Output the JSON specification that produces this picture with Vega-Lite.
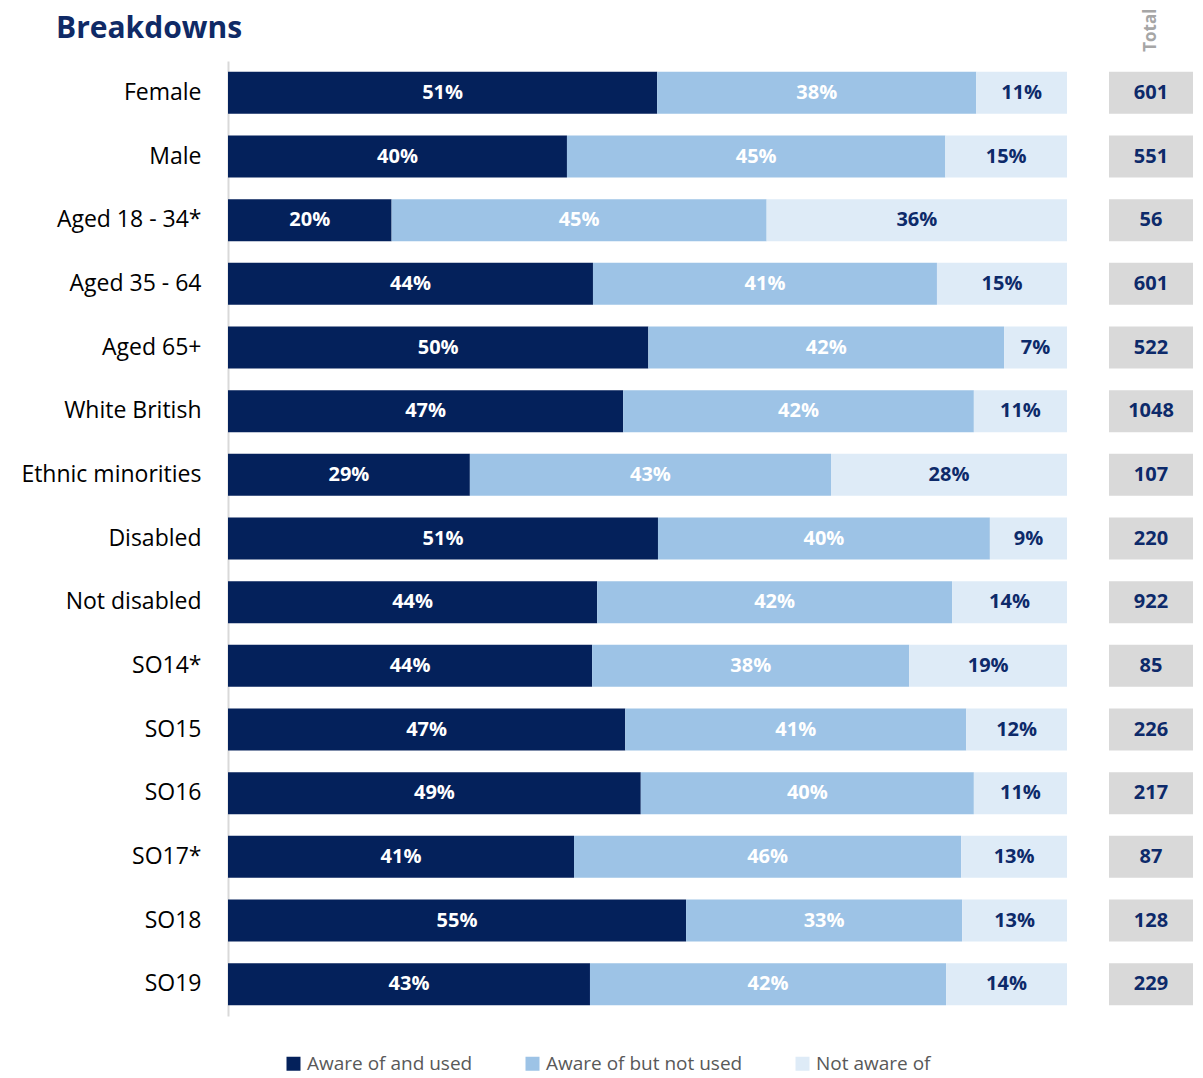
{
  "$schema": "https://vega.github.io/schema/vega-lite/v6.json",
  "padding": {"left": 5, "top": 8, "right": 5, "bottom": 0},
  "autosize": {"type": "pad"},
  "bounds": "flush",
  "spacing": 42,
  "config": {"font": "Open Sans", "view": {"stroke": null}},
  "datasets": {
    "bars": [
      {"group": "Female", "category": "Aware of and used", "value": 51.1, "label": "51%"},
      {"group": "Female", "category": "Aware of but not used", "value": 38.0, "label": "38%"},
      {"group": "Female", "category": "Not aware of", "value": 10.8, "label": "11%"},
      {"group": "Male", "category": "Aware of and used", "value": 40.4, "label": "40%"},
      {"group": "Male", "category": "Aware of but not used", "value": 45.1, "label": "45%"},
      {"group": "Male", "category": "Not aware of", "value": 14.5, "label": "15%"},
      {"group": "Aged 18 - 34*", "category": "Aware of and used", "value": 19.5, "label": "20%"},
      {"group": "Aged 18 - 34*", "category": "Aware of but not used", "value": 44.7, "label": "45%"},
      {"group": "Aged 18 - 34*", "category": "Not aware of", "value": 35.8, "label": "36%"},
      {"group": "Aged 35 - 64", "category": "Aware of and used", "value": 43.5, "label": "44%"},
      {"group": "Aged 35 - 64", "category": "Aware of but not used", "value": 41.0, "label": "41%"},
      {"group": "Aged 35 - 64", "category": "Not aware of", "value": 15.5, "label": "15%"},
      {"group": "Aged 65+", "category": "Aware of and used", "value": 50.1, "label": "50%"},
      {"group": "Aged 65+", "category": "Aware of but not used", "value": 42.4, "label": "42%"},
      {"group": "Aged 65+", "category": "Not aware of", "value": 7.5, "label": "7%"},
      {"group": "White British", "category": "Aware of and used", "value": 47.1, "label": "47%"},
      {"group": "White British", "category": "Aware of but not used", "value": 41.8, "label": "42%"},
      {"group": "White British", "category": "Not aware of", "value": 11.1, "label": "11%"},
      {"group": "Ethnic minorities", "category": "Aware of and used", "value": 28.8, "label": "29%"},
      {"group": "Ethnic minorities", "category": "Aware of but not used", "value": 43.0, "label": "43%"},
      {"group": "Ethnic minorities", "category": "Not aware of", "value": 28.1, "label": "28%"},
      {"group": "Disabled", "category": "Aware of and used", "value": 51.3, "label": "51%"},
      {"group": "Disabled", "category": "Aware of but not used", "value": 39.6, "label": "40%"},
      {"group": "Disabled", "category": "Not aware of", "value": 9.2, "label": "9%"},
      {"group": "Not disabled", "category": "Aware of and used", "value": 44.0, "label": "44%"},
      {"group": "Not disabled", "category": "Aware of but not used", "value": 42.3, "label": "42%"},
      {"group": "Not disabled", "category": "Not aware of", "value": 13.7, "label": "14%"},
      {"group": "SO14*", "category": "Aware of and used", "value": 43.4, "label": "44%"},
      {"group": "SO14*", "category": "Aware of but not used", "value": 37.8, "label": "38%"},
      {"group": "SO14*", "category": "Not aware of", "value": 18.8, "label": "19%"},
      {"group": "SO15", "category": "Aware of and used", "value": 47.3, "label": "47%"},
      {"group": "SO15", "category": "Aware of but not used", "value": 40.6, "label": "41%"},
      {"group": "SO15", "category": "Not aware of", "value": 12.0, "label": "12%"},
      {"group": "SO16", "category": "Aware of and used", "value": 49.2, "label": "49%"},
      {"group": "SO16", "category": "Aware of but not used", "value": 39.7, "label": "40%"},
      {"group": "SO16", "category": "Not aware of", "value": 11.1, "label": "11%"},
      {"group": "SO17*", "category": "Aware of and used", "value": 41.2, "label": "41%"},
      {"group": "SO17*", "category": "Aware of but not used", "value": 46.1, "label": "46%"},
      {"group": "SO17*", "category": "Not aware of", "value": 12.6, "label": "13%"},
      {"group": "SO18", "category": "Aware of and used", "value": 54.6, "label": "55%"},
      {"group": "SO18", "category": "Aware of but not used", "value": 32.9, "label": "33%"},
      {"group": "SO18", "category": "Not aware of", "value": 12.5, "label": "13%"},
      {"group": "SO19", "category": "Aware of and used", "value": 43.1, "label": "43%"},
      {"group": "SO19", "category": "Aware of but not used", "value": 42.4, "label": "42%"},
      {"group": "SO19", "category": "Not aware of", "value": 14.4, "label": "14%"}
    ],
    "totals": [
      {"group": "Female", "total": 601},
      {"group": "Male", "total": 551},
      {"group": "Aged 18 - 34*", "total": 56},
      {"group": "Aged 35 - 64", "total": 601},
      {"group": "Aged 65+", "total": 522},
      {"group": "White British", "total": 1048},
      {"group": "Ethnic minorities", "total": 107},
      {"group": "Disabled", "total": 220},
      {"group": "Not disabled", "total": 922},
      {"group": "SO14*", "total": 85},
      {"group": "SO15", "total": 226},
      {"group": "SO16", "total": 217},
      {"group": "SO17*", "total": 87},
      {"group": "SO18", "total": 128},
      {"group": "SO19", "total": 229}
    ]
  },
  "hconcat": [
    {
      "width": 839,
      "height": 955,
      "data": {"name": "bars"},
      "title": {"text": "Breakdowns", "anchor": "start", "frame": "group", "dx": -172, "fontSize": 30, "fontWeight": "bold", "color": "#0f2a66", "offset": 17},
      "encoding": {
        "y": {
          "field": "group", "type": "nominal", "sort": null,
          "scale": {"paddingInner": 0.34, "paddingOuter": 0.17},
          "axis": {"title": null, "ticks": false, "domainColor": "#d9d9d9", "domainWidth": 2, "labelFontSize": 23, "labelColor": "#000000", "labelPadding": 27, "minExtent": 223, "maxExtent": 223, "labelLimit": 300}
        }
      },
      "layer": [
        {
          "mark": {"type": "bar"},
          "encoding": {
            "x": {"field": "value", "type": "quantitative", "stack": "normalize", "axis": null},
            "order": {"field": "category", "sort": "ascending"},
            "color": {
              "field": "category", "type": "nominal",
              "scale": {"domain": ["Aware of and used", "Aware of but not used", "Not aware of"], "range": ["#04215b", "#9dc3e6", "#deebf7"]},
              "legend": {"orient": "none", "legendX": 56, "legendY": 993, "padding": 0, "direction": "horizontal", "title": null, "symbolType": "square", "symbolSize": 196, "symbolStrokeWidth": 0, "labelFontSize": 19, "labelColor": "#595959", "labelOffset": 4, "columnPadding": 50, "labelLimit": 400}
            }
          }
        },
        {
          "mark": {"type": "text", "fontSize": 20, "fontWeight": "bold"},
          "encoding": {
            "x": {"field": "value", "type": "quantitative", "stack": "normalize", "bandPosition": 0.5},
            "detail": {"field": "category"},
            "order": {"field": "category", "sort": "ascending"},
            "text": {"field": "label"},
            "color": {"condition": {"test": "datum.category === 'Not aware of'", "value": "#0d2a6a"}, "value": "#ffffff"}
          }
        }
      ]
    },
    {
      "width": 84,
      "height": 955,
      "data": {"name": "totals"},
      "title": {"text": "Total", "angle": -90, "align": "left", "baseline": "middle", "anchor": "middle", "offset": -34, "fontSize": 17, "fontWeight": "bold", "color": "#a6a6a6"},
      "encoding": {
        "y": {"field": "group", "type": "nominal", "sort": null, "scale": {"paddingInner": 0.34, "paddingOuter": 0.17}, "axis": null}
      },
      "layer": [
        {
          "mark": {"type": "bar", "color": "#d9d9d9"},
          "encoding": {"x": {"datum": 1, "type": "quantitative", "scale": {"domain": [0, 1]}, "axis": null}}
        },
        {
          "mark": {"type": "text", "fontSize": 20, "fontWeight": "bold", "color": "#0d2a6a"},
          "encoding": {
            "x": {"datum": 0.5, "type": "quantitative"},
            "text": {"field": "total", "type": "quantitative", "format": "d"}
          }
        }
      ]
    }
  ]
}
